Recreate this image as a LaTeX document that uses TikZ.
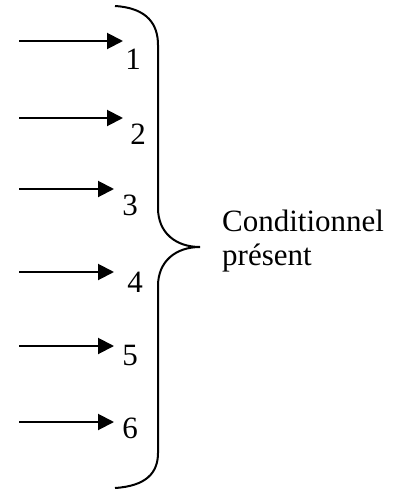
\documentclass[tikz,border=0pt]{standalone}
\usepackage{fontspec}
\setmainfont{Liberation Serif}
\usetikzlibrary{arrows.meta}
\begin{document}
\begin{tikzpicture}[x=1pt,y=-1pt,
  arr/.style={line width=2pt,-{Triangle[length=16pt,width=16pt]}},
  num/.style={font=\fontsize{31}{34}\selectfont,inner sep=0pt},
  lbl/.style={font=\fontsize{31}{34}\selectfont,inner sep=0pt,anchor=base west},
  brace/.style={line width=2pt}]
\useasboundingbox (0,0) rectangle (410,491);
\fill[white] (0,0) rectangle (410,491);
% labels
\node[num] (n1) at (133,59) {1};
\node[num] (n2) at (138,134) {2};
\node[num] (n3) at (130,205) {3};
\node[num] (n4) at (135,282) {4};
\node[num] (n5) at (130,355) {5};
\node[num] (n6) at (130,428) {6};
% arrow endpoints
\coordinate (s1) at (19,41);  \coordinate (e1) at (123,41);
\coordinate (s2) at (19,118); \coordinate (e2) at (123,118);
\coordinate (s3) at (19,189); \coordinate (e3) at (114,189);
\coordinate (s4) at (19,272); \coordinate (e4) at (114,272);
\coordinate (s5) at (19,346); \coordinate (e5) at (114,346);
\coordinate (s6) at (19,422); \coordinate (e6) at (114,422);
\foreach \i in {1,...,6} \draw[arr] (s\i) -- (e\i);
% brace
\coordinate (btop) at (115,6);
\coordinate (btip) at (200,247);
\coordinate (bbot) at (115,488);
\draw[brace] (btop) .. controls (148,8) and (158,25) .. (158,45)
  -- (158,208) .. controls (158,233) and (176,247) .. (btip)
  .. controls (176,247) and (158,261) .. (158,286)
  -- (158,453) .. controls (158,473) and (146,486) .. (bbot);
% text
\node[lbl] (t1) at (222,231) {Conditionnel};
\node[lbl] (t2) at (222,265) {présent};
\end{tikzpicture}
\end{document}
